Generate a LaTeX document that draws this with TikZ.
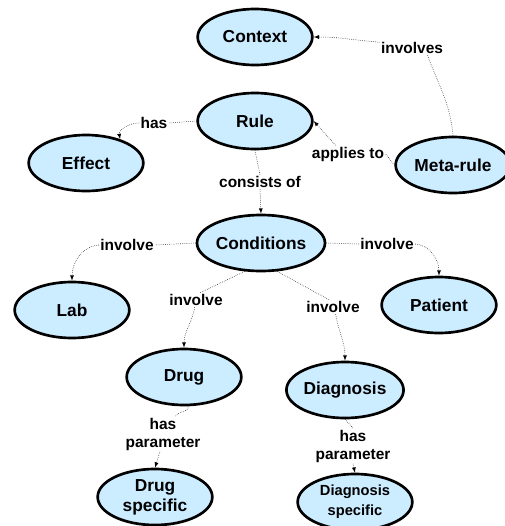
\documentclass[tikz,border=0pt]{standalone}
\usepackage{fontspec}
\setmainfont{Liberation Sans}
\usetikzlibrary{arrows,shapes}
\definecolor{cbox}{RGB}{204,236,255}

\begin{document}
\begin{tikzpicture}[x=0.75pt, y=-0.75pt]
\tikzstyle{vtx}=[draw, ellipse, line width=2pt, fill=cbox, inner sep=0pt, minimum width=86pt, minimum height=42pt, align=center, font=\fontsize{13}{15}\selectfont\bfseries]
\tikzstyle{lbl}=[inner sep=1pt, align=center, font=\fontsize{11.6}{13.5}\selectfont\bfseries]
\tikzstyle{con}=[densely dotted, thin]
\tikzstyle{arr}=[con, -latex]
\useasboundingbox (0,0) rectangle (505,526);

\node[vtx] (C) at (255,37) {Context};
\node[vtx] (R) at (255,121) {Rule};
\node[vtx] (E) at (86,163) {Effect};
\node[vtx] (M) at (453,165) {Meta-rule};
\node[vtx] (CD) at (261,243) {Conditions};
\node[vtx] (L) at (72,310) {Lab};
\node[vtx] (P) at (439,305) {Patient};
\node[vtx] (D) at (184,377) {Drug};
\node[vtx] (G) at (345,390) {Diagnosis};
\node[vtx] (DS) at (155,497) {Drug\\specific};
\node[vtx, font=\fontsize{11}{15}\selectfont\bfseries] (GS) at (355,502) {Diagnosis\\specific};

\node[lbl] (li) at (412,48) {involves};
\node[lbl] (la) at (348,154) {applies to};
\node[lbl] (lh) at (154,123) {has};
\node[lbl] (lc) at (260,182) {consists of};
\node[lbl] (lv1) at (127,245) {involve};
\node[lbl] (lv2) at (387,244) {involve};
\node[lbl] (lv3) at (196,300) {involve};
\node[lbl] (lv4) at (333,307) {involve};
\node[lbl] (lp1) at (163,434) {has\\parameter};
\node[lbl] (lp2) at (353,446) {has\\parameter};

\draw[con] (M.north) to[out=95,in=-70] (li.-25);
\draw[arr] (li.170) to[out=175,in=0] (C.east);
\draw[con] (M.west) -- (la.east);
\draw[arr] (la.145) -- (R.east);
\draw[con] (R.west) -- (lh.east);
\draw[arr] (lh.west) to[out=180,in=100] (E.35);
\draw[con] (R.south) -- (lc.north);
\draw[arr] (lc.south) -- (CD.north);
\draw[con] (CD.west) -- (lv1.east);
\draw[arr] (lv1.west) to[out=185,in=90] (L.north);
\draw[con] (CD.east) -- (lv2.west);
\draw[arr] (lv2.east) to[out=-5,in=90] (P.north);
\draw[con] (CD.240) -- (lv3.60);
\draw[arr] (lv3.-100) to[out=-100,in=90] (D.north);
\draw[con] (CD.300) -- (lv4.120);
\draw[arr] (lv4.-70) to[out=-80,in=90] (G.north);
\draw[con] (D.-80) to[out=-100,in=60] (lp1.55);
\draw[arr] (lp1.-100) -- (DS.north);
\draw[con] (G.south) -- (lp2.north);
\draw[arr] (lp2.south) -- (GS.north);
\end{tikzpicture}
\end{document}
